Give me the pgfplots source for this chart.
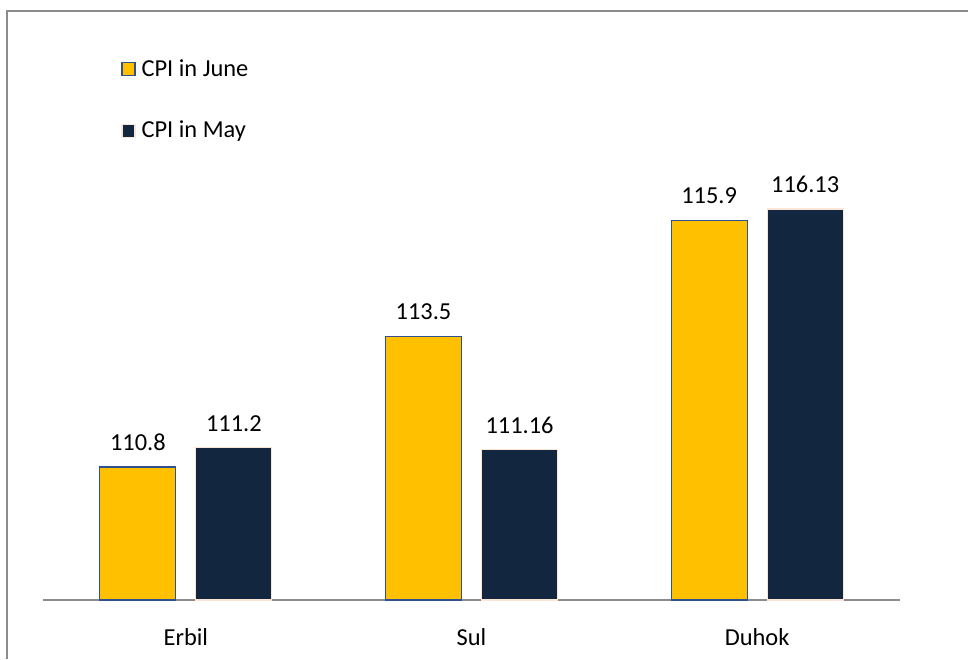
\documentclass[border=0pt]{standalone}
\usepackage{pgfplots}
\pgfplotsset{compat=1.18}
\usepackage{fontspec}
\setmainfont{Carlito}
\definecolor{cjune}{HTML}{FFC000}
\definecolor{cjuneedge}{HTML}{2F528F}
\definecolor{cmay}{HTML}{12263F}
\definecolor{cmayedge}{HTML}{FBE5D6}
\definecolor{cframe}{HTML}{8C8C8C}
\begin{document}
\begin{tikzpicture}
\useasboundingbox (0,0) rectangle (484pt,329.5pt);
\draw[cframe, line width=1.2pt] (3.5pt,0) -- (3.5pt,324pt) -- (484pt,324pt);
\begin{axis}[
  at={(21.5pt,29.5pt)}, anchor=south west,
  scale only axis,
  width=428.5pt, height=291.5pt,
  ymin=108.05, ymax=120.1,
  xmin=-0.5, xmax=2.5,
  ybar=10pt, bar width=38pt,
  axis y line=none,
  axis x line*=bottom,
  x axis line style={-, cframe, line width=1pt},
  xtick={0,1,2}, xticklabels={Erbil,Sul,Duhok},
  major tick length=0pt,
  xticklabel style={font=\fontsize{12.2}{14}\selectfont, yshift=-10.5pt},
  clip=false,
  point meta=explicit symbolic,
  nodes near coords,
  nodes near coords style={font=\fontsize{12.2}{14}\selectfont, black, yshift=4.5pt},
  legend style={at={(0.091,0.935)}, anchor=north west, draw=none, fill=none,
    font=\fontsize{12.2}{14}\selectfont, row sep=17pt, inner sep=0pt,
    /tikz/every odd column/.append style={column sep=1pt}},
  legend cell align=left,
  legend image code/.code={\draw[#1, line width=0.6pt] (0pt,-3.25pt) rectangle (6.5pt,3.25pt);},
]
\addplot[fill=cjune, draw=cjuneedge, line width=0.6pt] coordinates {(0,110.8)[110.8] (1,113.5)[113.5] (2,115.9)[115.9]};
\addplot[fill=cmay, draw=cmayedge, line width=0.6pt] coordinates {(0,111.2)[111.2] (1,111.16)[111.16] (2,116.13)[116.13]};
\legend{CPI in June, CPI in May}
\end{axis}
\end{tikzpicture}
\end{document}
